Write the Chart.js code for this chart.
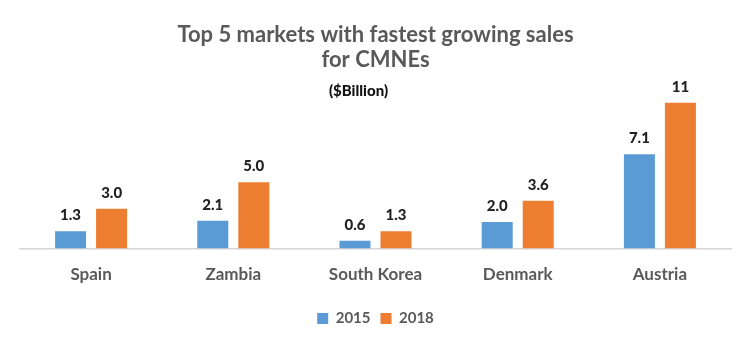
<!DOCTYPE html>
<html>
<head>
<meta charset="utf-8">
<script src="https://cdn.jsdelivr.net/npm/chart.js@4/dist/chart.umd.min.js"></script>
<style>
  html, body { margin: 0; padding: 0; background: #ffffff; }
  #wrap { width: 750px; height: 349px; position: relative; }
</style>
</head>
<body>
<div id="wrap"><canvas id="chart"></canvas></div>
<script>
const markets = ['Spain', 'Zambia', 'South Korea', 'Denmark', 'Austria'];
const sales2015 = [1.3, 2.1, 0.6, 2.0, 7.1];
const sales2018 = [3.0, 5.0, 1.3, 3.6, 11];
const seriesNames = ['2015', '2018'];
const titleLines = ['Top 5 markets with fastest growing sales', 'for CMNEs'];
const unitNote = '($Billion)';

const FONT = 'Lato, "Open Sans", sans-serif';

// Value labels above each bar
const barValueLabels = {
  id: 'barValueLabels',
  afterDatasetsDraw(chart) {
    const ctx = chart.ctx;
    ctx.save();
    ctx.font = `900 15px ${FONT}`;
    ctx.fillStyle = '#222222';
    ctx.textAlign = 'center';
    ctx.textBaseline = 'alphabetic';
    chart.data.datasets.forEach((ds, i) => {
      const meta = chart.getDatasetMeta(i);
      meta.data.forEach((bar, j) => {
        const v = ds.data[j];
        const txt = v >= 10 ? String(Math.round(v)) : v.toFixed(1);
        ctx.fillText(txt, bar.x, bar.y - 11);
      });
    });
    ctx.restore();
  }
};

// Unit note under the title
const unitNotePlugin = {
  id: 'unitNote',
  afterDraw(chart) {
    const ctx = chart.ctx;
    ctx.save();
    ctx.font = `900 15px ${FONT}`;
    ctx.fillStyle = '#111111';
    ctx.textAlign = 'center';
    ctx.textBaseline = 'middle';
    const cx = (chart.chartArea.left + chart.chartArea.right) / 2 - 17;
    ctx.fillText(unitNote, cx, 91);
    ctx.restore();
  }
};

new Chart(document.getElementById('chart'), {
  type: 'bar',
  data: {
    labels: markets,
    datasets: [
      {
        label: seriesNames[0],
        data: sales2015,
        backgroundColor: '#5B9BD5',
        borderColor: '#5B9BD5',
        borderWidth: 0
      },
      {
        label: seriesNames[1],
        data: sales2018,
        backgroundColor: '#ED7D31',
        borderColor: '#ED7D31',
        borderWidth: 0
      }
    ]
  },
  options: {
    responsive: true,
    maintainAspectRatio: false,
    animation: false,
    layout: { padding: { left: 20, right: 19, top: 0, bottom: 13 } },
    datasets: {
      bar: { categoryPercentage: 0.577, barPercentage: 0.756 }
    },
    scales: {
      x: {
        grid: { display: false, drawTicks: false },
        border: { display: true, color: '#d6d6d6', width: 1.5 },
        ticks: {
          color: '#595959',
          font: { family: FONT, size: 17, weight: 'bold' },
          padding: 16
        }
      },
      y: {
        display: false,
        min: 0,
        max: 11
      }
    },
    plugins: {
      title: {
        display: true,
        text: titleLines,
        color: '#595959',
        font: { family: FONT, size: 22, weight: 'bold', lineHeight: 1.15 },
        padding: { top: 22, bottom: 30 }
      },
      legend: {
        position: 'bottom',
        labels: {
          color: '#595959',
          font: { family: FONT, size: 15, weight: 'bold' },
          boxWidth: 11,
          boxHeight: 11,
          padding: 10
        }
      },
      tooltip: { enabled: false }
    }
  },
  plugins: [barValueLabels, unitNotePlugin]
});
</script>
</body>
</html>
